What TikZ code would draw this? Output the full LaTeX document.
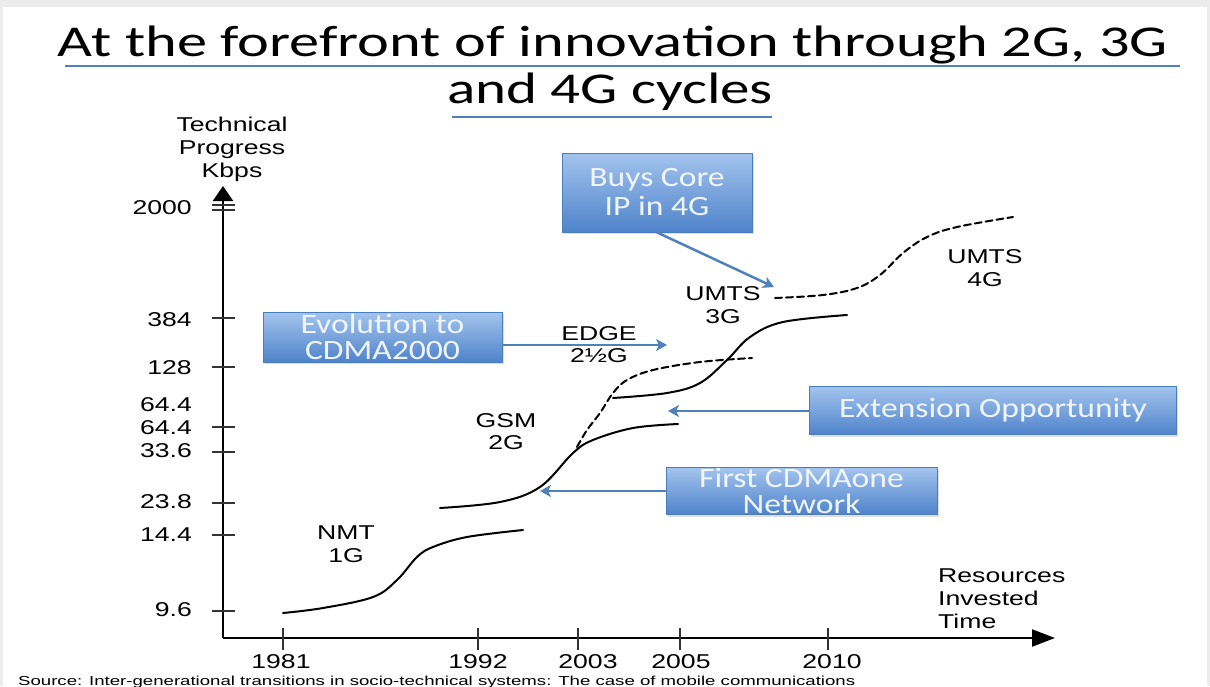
\documentclass[tikz,border=0pt]{standalone}
\usepackage{fontspec}
\usepackage{graphicx}
\setmainfont{Liberation Sans}
\newfontfamily\labfont[FakeStretch=1.33]{Liberation Sans}
\newfontfamily\boxfont[FakeStretch=1.2]{Carlito}
\newfontfamily\titlefont{Carlito}
\usetikzlibrary{arrows.meta,shadows}
\definecolor{arrowblue}{RGB}{79,129,189}
\definecolor{boxtop}{RGB}{163,196,237}
\definecolor{boxbot}{RGB}{79,131,203}
\definecolor{boxedge}{RGB}{74,126,187}
\definecolor{boxtext}{RGB}{240,245,252}
\definecolor{bggray}{RGB}{236,236,236}
\begin{document}
\begin{tikzpicture}[x=1pt,y=-1pt,
  lab/.style={font=\labfont\fontsize{20}{23}\selectfont, align=center, inner sep=0pt},
  ylab/.style={font=\labfont\fontsize{20}{23}\selectfont, anchor=east, inner sep=0pt},
  bluebox/.style={draw=boxedge, line width=0.8pt, top color=boxtop, bottom color=boxbot,
    text=boxtext, font=\boxfont\fontsize{28}{26}\selectfont, align=center, inner sep=0pt,
    drop shadow={opacity=0.25, shadow xshift=1.5pt, shadow yshift=-2pt}},
  axisline/.style={line width=2.2pt, black},
  tickline/.style={line width=1.8pt, black!80},
  curve/.style={line width=2pt, black, line cap=round},
  dcurve/.style={curve, dash pattern=on 7pt off 4pt},
  barrow/.style={draw=arrowblue, line width=2.5pt, -{Stealth[length=11pt,width=12pt,inset=3pt]}},
  uline/.style={draw=arrowblue, line width=2.5pt}
]
\useasboundingbox (0,0) rectangle (1210,686);
\fill[bggray] (0,0) rectangle (1210,686);
\fill[white] (3,7) rectangle (1207,686);

% title
\node[anchor=base, inner sep=0pt] (title1) at (613,56)
  {\resizebox{1110pt}{\height}{\titlefont\fontsize{44}{50}\selectfont At the forefront of innovation through 2G, 3G}};
\node[anchor=base, inner sep=0pt] (title2) at (610,103)
  {\resizebox{326pt}{\height}{\titlefont\fontsize{44}{50}\selectfont and 4G cycles}};
\draw[uline] (65,66) -- (1180,66);
\draw[uline] (452,117) -- (772,117);

% axes
\draw[axisline, -{Triangle[length=15pt,width=20pt]}] (223,638) -- (223,186);
\draw[axisline, -{Triangle[length=23pt,width=17pt]}] (223,638) -- (1055,638);

% y ticks
\foreach \yy in {205,210,318,367,427,452,503,535,611}
  \draw[tickline] (212,\yy) -- (235,\yy);
% x ticks
\foreach \xx in {283,478,578,680,828}
  \draw[tickline] (\xx,628) -- (\xx,650);

% y labels
\node[ylab] (y2000) at (192,208) {2000};
\node[ylab] (y384) at (192,320) {384};
\node[ylab] (y128) at (192,368) {128};
\node[ylab] (y644a) at (192,405) {64.4};
\node[ylab] (y644b) at (192,428) {64.4};
\node[ylab] (y336) at (192,451) {33.6};
\node[ylab] (y238) at (192,502) {23.8};
\node[ylab] (y144) at (192,535) {14.4};
\node[ylab] (y96) at (192,610) {9.6};

% x labels
\node[lab] (x1981) at (281,662) {1981};
\node[lab] (x1992) at (478,662) {1992};
\node[lab] (x2003) at (588,662) {2003};
\node[lab] (x2005) at (681,662) {2005};
\node[lab] (x2010) at (832,662) {2010};

% axis titles
\node[lab] (ytitle) at (232,149) {Technical\\Progress\\Kbps};
\node[lab, align=left, anchor=west] (xtitle) at (938,599) {Resources\\Invested\\Time};

% curves
\draw[curve] plot[smooth, tension=0.6] coordinates {(283,613) (323,608) (373,597) (397,580) (417,557) (433,547) (467,537) (523,530)};
\draw[curve] plot[smooth, tension=0.6] coordinates {(440,508) (500,502) (540,487) (573,453) (593,440) (633,428) (678,424)};
\draw[dcurve] plot[smooth, tension=0.6] coordinates {(577,447) (587,430) (600,413) (613,393) (627,380) (653,370) (700,362) (752,358)};
\draw[curve] plot[smooth, tension=0.6] coordinates {(613,398) (667,393) (700,383) (727,360) (750,337) (783,322) (847,315)};
\draw[dcurve] plot[smooth, tension=0.6] coordinates {(775,298) (823,295) (857,288) (880,275) (903,253) (927,237) (957,227) (1013,217)};

% curve labels
\node[lab, font=\labfont\fontsize{20}{22}\selectfont] (edge) at (599,345) {EDGE\\2½G};
\node[lab] (umts3) at (723,305.5) {UMTS\\3G};
\node[lab, font=\labfont\fontsize{20}{22}\selectfont] (gsm) at (506,432) {GSM\\2G};
\node[lab] (nmt) at (346,544.5) {NMT\\1G};
\node[lab] (umts4) at (985,268.5) {UMTS\\4G};

% boxes
\node[bluebox, minimum width=190pt, minimum height=79pt, font=\boxfont\fontsize{28}{29}\selectfont] (b1) at (657,192.5) {Buys Core\\IP in 4G};
\node[bluebox, minimum width=239pt, minimum height=50pt] (b2) at (382.5,337) {Evolution to\\CDMA2000};
\node[bluebox, minimum width=367pt, minimum height=48pt] (b3) at (993,410.5) {Extension Opportunity};
\node[bluebox, minimum width=271pt, minimum height=47pt] (b4) at (801.5,491) {First CDMAone\\Network};

% arrow targets
\coordinate (t1) at (774,287);
\coordinate (t2) at (667,345);
\coordinate (t3) at (668,411);
\coordinate (t4) at (540,491);

\draw[barrow] (b1.south) -- (t1);
\draw[barrow] (b2.east |- t2) -- (t2);
\draw[barrow] (b3.west |- t3) -- (t3);
\draw[barrow] (b4.west |- t4) -- (t4);

% source
\node[anchor=base west, inner sep=0pt] (src) at (18,685)
  {\resizebox{837pt}{\height}{\fontsize{13}{15}\selectfont Source: Inter-generational transitions in socio-technical systems: The case of mobile communications}};
\end{tikzpicture}
\end{document}
